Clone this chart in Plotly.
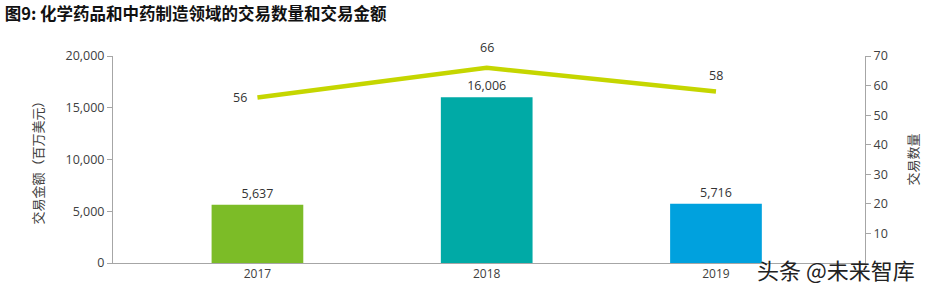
import plotly.graph_objects as go

years = ["2017", "2018", "2019"]
deal_value = [5637, 16006, 5716]
deal_count = [56, 66, 58]
bar_colors = ["#7cbc27", "#00aaa6", "#00a1de"]
# label offsets (px) for the deal-count line labels
count_label_dx = [-8, 0, 0]
count_label_dy = [0, 20, 16]

fig = go.Figure()
fig.add_trace(go.Bar(
    x=years, y=deal_value, width=0.4,
    marker=dict(color=bar_colors, line=dict(width=0)),
    text=[f"{v:,}" for v in deal_value], textposition="outside",
    textfont=dict(size=12.5, color="#333333"), cliponaxis=False,
    showlegend=False, yaxis="y"))
fig.add_trace(go.Scatter(
    x=years, y=deal_count, mode="lines",
    line=dict(color="#c5d600", width=4.5),
    cliponaxis=False, showlegend=False, yaxis="y2"))

for i, (v, dx, dy) in enumerate(zip(deal_count, count_label_dx, count_label_dy)):
    fig.add_annotation(x=i, y=v, xref="x", yref="y2", text=str(v),
                       showarrow=False, xshift=dx, yshift=dy,
                       xanchor="right" if dx < 0 else "center",
                       font=dict(size=12.5, color="#333333"))

fig.update_layout(
    width=931, height=294,
    margin=dict(l=113, r=63, t=56, b=27),
    paper_bgcolor="white", plot_bgcolor="white",
    font=dict(family="Open Sans, Noto Sans CJK SC", size=12, color="#404040"),
    title=dict(text="<b>图9: 化学药品和中药制造领域的交易数量和交易金额</b>",
               x=0.005, xanchor="left", y=0.952, yanchor="middle",
               font=dict(size=16.5, color="#111111", family="Noto Sans CJK SC")),
    xaxis=dict(type="category", range=[-0.63, 2.65], showline=True,
               linecolor="#a6a6a6", linewidth=1, ticks="", showgrid=False,
               tickfont=dict(size=12, color="#404040")),
    yaxis=dict(range=[0, 20000], tickvals=[0, 5000, 10000, 15000, 20000],
               tickformat=",", showline=True, linecolor="#a6a6a6", linewidth=1,
               ticks="outside", ticklen=5, tickcolor="#a6a6a6", showgrid=False,
               zeroline=False, tickfont=dict(size=12.5),
               title=dict(text="交易金额（百万美元）", standoff=18,
                          font=dict(size=13, color="#404040", family="Noto Sans CJK SC"))),
    yaxis2=dict(range=[0, 70], tickvals=[10, 20, 30, 40, 50, 60, 70],
                overlaying="y", side="right", showline=True,
                linecolor="#a6a6a6", linewidth=1, ticks="outside", ticklen=5,
                tickcolor="#a6a6a6", showgrid=False, zeroline=False,
                tickfont=dict(size=12.5),
                title=dict(text="交易数量", standoff=22,
                           font=dict(size=13, color="#404040", family="Noto Sans CJK SC"))),
)
fig.add_annotation(text="头条 @未来智库", xref="paper", yref="paper",
                   x=1.0 + 52/755, xanchor="right", y=-6/211, yanchor="middle",
                   showarrow=False,
                   font=dict(size=22, color="#222222", family="Noto Sans CJK SC"))
fig.write_html("out.html")
